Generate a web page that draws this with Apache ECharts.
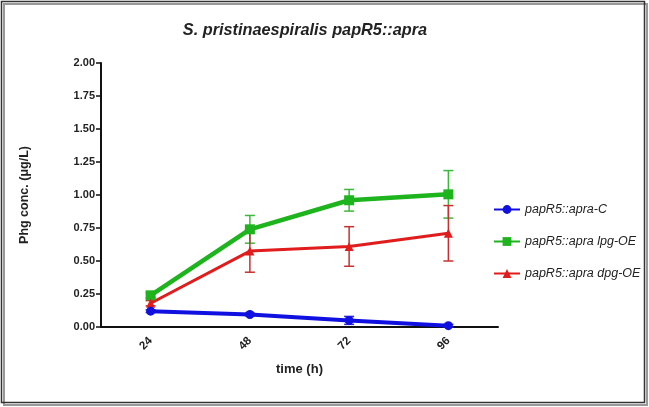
<!DOCTYPE html>
<html>
<head>
<meta charset="utf-8">
<script src="https://cdn.jsdelivr.net/npm/echarts@6/dist/echarts.min.js"></script>
<style>html,body{margin:0;padding:0;background:#fff}#c{width:649px;height:407px}</style>
</head>
<body>
<div id="c"></div>
<script>
var categories = ['24', '48', '72', '96'];
var yTicks = ['0.00','0.25','0.50','0.75','1.00','1.25','1.50','1.75','2.00'];
var seriesNames = ['papR5::apra-C', 'papR5::apra lpg-OE', 'papR5::apra dpg-OE'];
var controlMean = [0.12, 0.095, 0.05, 0.01];
var controlErr  = [0.01, 0.01, 0.03, 0.01];
var lpgMean = [0.24, 0.74, 0.96, 1.005];
var lpgErr  = [0.02, 0.105, 0.082, 0.18];
var dpgMean = [0.18, 0.575, 0.61, 0.71];
var dpgErr  = [0.02, 0.16, 0.15, 0.21];

var FONT = '"Liberation Sans", Arial, sans-serif';
var chart = echarts.init(document.getElementById('c'));

function errSeries(means, errs, color, z) {
  var data = means.map(function (m, i) { return [i, m - errs[i], m + errs[i]]; });
  return {
    type: 'custom', z: z, silent: true,
    renderItem: function (params, api) {
      var lo = api.coord([api.value(0), api.value(1)]);
      var hi = api.coord([api.value(0), api.value(2)]);
      var w = 5;
      var st = { stroke: color, lineWidth: 1.5 };
      return { type: 'group', children: [
        { type: 'line', shape: { x1: lo[0], y1: lo[1], x2: hi[0], y2: hi[1] }, style: st },
        { type: 'line', shape: { x1: lo[0] - w, y1: lo[1], x2: lo[0] + w, y2: lo[1] }, style: st },
        { type: 'line', shape: { x1: hi[0] - w, y1: hi[1], x2: hi[0] + w, y2: hi[1] }, style: st }
      ]};
    },
    encode: { x: 0, y: [1, 2] },
    data: data
  };
}

var option = {
  animation: false,
  backgroundColor: '#fff',
  title: {
    text: 'S. pristinaespiralis papR5::apra',
    left: 300, top: 18, textAlign: 'center',
    textStyle: { fontFamily: FONT, fontSize: 16.3, fontStyle: 'italic', fontWeight: 'bold', color: '#222' }
  },
  legend: {
    orient: 'vertical', left: 488, top: 198, itemGap: 19,
    itemWidth: 26, itemHeight: 11,
    data: seriesNames,
    textStyle: { fontFamily: FONT, fontSize: 12.5, fontStyle: 'italic', color: '#222' }
  },
  grid: { left: 101, right: 151, top: 63, bottom: 80 },
  xAxis: {
    type: 'category', data: categories, boundaryGap: true,
    name: 'time (h)', nameLocation: 'middle', nameGap: 36,
    nameTextStyle: { fontFamily: FONT, fontSize: 13, fontWeight: 'bold', color: '#222' },
    axisLine: { lineStyle: { color: '#111', width: 2 } },
    axisTick: { alignWithLabel: true, length: 5, lineStyle: { width: 1.5, color: '#111' } },
    axisLabel: { rotate: 45, fontFamily: FONT, fontSize: 11.5, fontWeight: 'bold', color: '#222', margin: 12 }
  },
  yAxis: {
    type: 'value', min: 0, max: 2, interval: 0.25,
    name: 'Phg conc. (\u03bcg/L)', nameLocation: 'middle', nameGap: 70, nameRotate: 90,
    nameTextStyle: { fontFamily: FONT, fontSize: 12.5, fontWeight: 'bold', color: '#222' },
    axisLine: { show: true, lineStyle: { color: '#111', width: 2 } },
    axisTick: { show: true, length: 5, lineStyle: { width: 1.5, color: '#111' } },
    splitLine: { show: false },
    axisLabel: {
      fontFamily: FONT, fontSize: 11, fontWeight: 'bold', color: '#222', margin: 6,
      formatter: function (v) { return yTicks[Math.round(v / 0.25)]; }
    }
  },
  series: [
    errSeries(controlMean, controlErr, '#2a2ad8', 3),
    errSeries(lpgMean, lpgErr, '#3cb83c', 3),
    errSeries(dpgMean, dpgErr, '#c83030', 3),
    { name: seriesNames[0], type: 'line', data: controlMean, symbol: 'circle', symbolSize: 9,
      z: 5, color: '#1010e0', lineStyle: { width: 4, color: '#1010e0' }, itemStyle: { color: '#1010e0' } },
    { name: seriesNames[1], type: 'line', data: lpgMean, symbol: 'rect', symbolSize: 10,
      z: 4, color: '#1eb41e', lineStyle: { width: 4.5, color: '#1eb41e' }, itemStyle: { color: '#1eb41e' } },
    { name: seriesNames[2], type: 'line', data: dpgMean, symbol: 'triangle', symbolSize: 9,
      z: 4, color: '#e01c1c', lineStyle: { width: 3, color: '#e01c1c' }, itemStyle: { color: '#e01c1c' } }
  ],
  graphic: [
    { type: 'rect', shape: { x: 4, y: 4, width: 643, height: 401 }, style: { fill: 'none', stroke: '#999', lineWidth: 2 }, silent: true },
    { type: 'rect', shape: { x: 1.5, y: 1.5, width: 643, height: 401 }, style: { fill: 'none', stroke: '#333', lineWidth: 1.5 }, silent: true }
  ]
};
chart.setOption(option);
</script>
</body>
</html>
